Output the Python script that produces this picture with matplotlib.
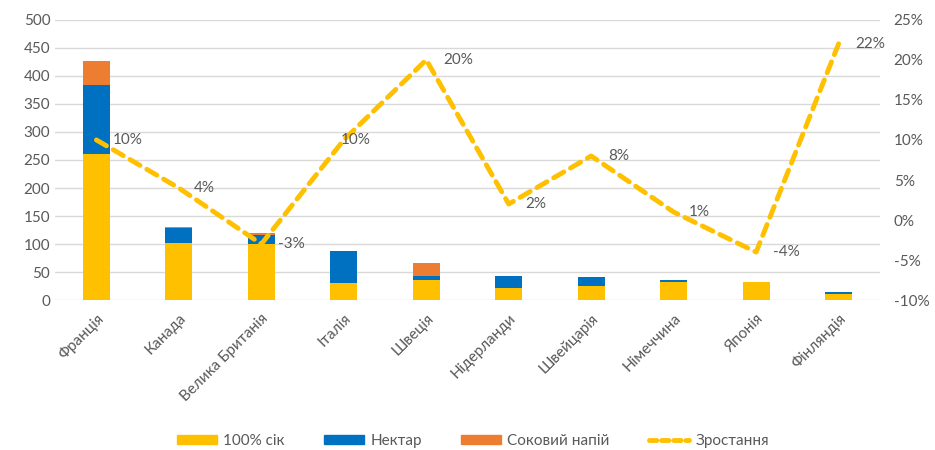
import matplotlib.pyplot as plt
import numpy as np
from matplotlib.patches import Patch
from matplotlib.lines import Line2D

plt.rcParams['font.family'] = ['Lato', 'DejaVu Sans']

countries = ['Франція', 'Канада', 'Велика Британія', 'Італія', 'Швеція',
             'Нідерланди', 'Швейцарія', 'Німеччина', 'Японія', 'Фінляндія']
juice = [261, 102, 101, 31, 36, 22, 26, 32, 33, 11]
nectar = [123, 27, 16, 56, 7, 21, 15, 4, 0, 4]
drink = [43, 1, 2, 0, 24, 0, 0, 0, 0, 0]
growth = [10, 4, -3, 10, 20, 2, 8, 1, -4, 22]

# per-label offsets in points (Italy label sits on the line)
label_dx = [12, 11, 12, -2, 12, 12, 12, 11, 12, 12]

grey = '#595959'
c_juice = '#FFC000'
c_nectar = '#0070C0'
c_drink = '#ED7D31'

fig = plt.figure(figsize=(9.35, 4.5), dpi=100)
ax = fig.add_axes([0.059, 0.333, 0.882, 0.623])
x = np.arange(len(countries))
w = 0.33

juice = np.array(juice)
nectar = np.array(nectar)
drink = np.array(drink)
ax.bar(x, juice, w, color=c_juice, zorder=2)
ax.bar(x, nectar, w, bottom=juice, color=c_nectar, zorder=2)
ax.bar(x, drink, w, bottom=juice + nectar, color=c_drink, zorder=2)

ax.set_xlim(-0.5, len(countries) - 0.5)
ax.set_ylim(0, 500)
ax.set_yticks(range(0, 501, 50))
ax.yaxis.grid(True, color='#D9D9D9', linewidth=1)
ax.set_axisbelow(True)
for s in ax.spines.values():
    s.set_visible(False)
ax.tick_params(axis='both', length=0, colors=grey, labelsize=11)
ax.set_xticks(x)
ax.set_xticklabels(countries, rotation=45, ha='right', rotation_mode='anchor')
ax.tick_params(axis='x', pad=8)

ax2 = ax.twinx()
ax2.plot(x, growth, color=c_juice, linewidth=3.5, linestyle=(0, (2.4, 1.6)),
         dash_capstyle='round', zorder=3)
ax2.set_ylim(-10, 25)
ax2.set_yticks(range(-10, 26, 5))
ax2.set_yticklabels([f'{t}%' for t in range(-10, 26, 5)])
for s in ax2.spines.values():
    s.set_visible(False)
ax2.tick_params(axis='y', length=0, colors=grey, labelsize=11, pad=10)

for xi, g, dx in zip(x, growth, label_dx):
    ax2.annotate(f'{g}%', (xi, g), xytext=(dx, 0), textcoords='offset points',
                 ha='left', va='center', color=grey, fontsize=11)

handles = [Patch(color=c_juice), Patch(color=c_nectar), Patch(color=c_drink),
           Line2D([0], [0], color=c_juice, linewidth=3.5, linestyle=(0, (1.5, 1.0)),
                  dash_capstyle='round')]
fig.legend(handles, ['100% сік', 'Нектар', 'Соковий напій', 'Зростання'],
           loc='center', bbox_to_anchor=(0.506, 0.02), ncol=4, frameon=False,
           fontsize=11, labelcolor=grey, handlelength=2.6, handleheight=0.55,
           columnspacing=2.6, handletextpad=0.4)

fig.savefig('out.png', dpi=100)
